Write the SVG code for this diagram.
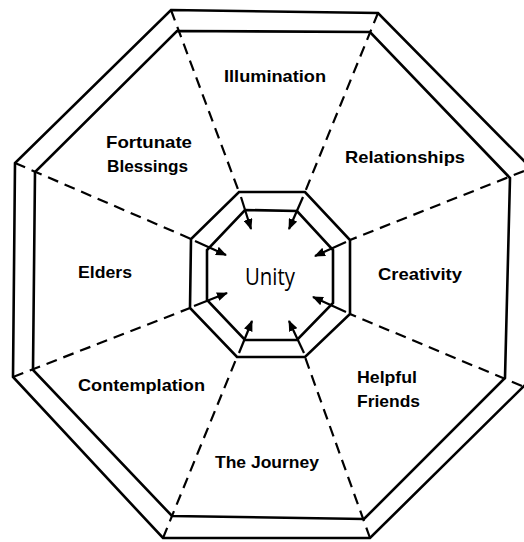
<svg xmlns="http://www.w3.org/2000/svg" width="524" height="542" viewBox="0 0 524 542">
<style>
.solid{fill:none;stroke:#000;stroke-width:2.6;stroke-linejoin:miter}
.dash{fill:none;stroke:#000;stroke-width:2.2;stroke-dasharray:11 7}
.arr{fill:none;stroke:#000;stroke-width:2.2}
.lbl{font-family:"Liberation Sans","DejaVu Sans",sans-serif;font-weight:bold;font-size:16.5px;fill:#000}
.center{font-family:"Open Sans","Liberation Sans",sans-serif;font-size:23px;fill:#000}
</style>
<defs>
<marker id="ah" viewBox="0 0 11 9" refX="10" refY="4.5" markerWidth="11" markerHeight="9" markerUnits="userSpaceOnUse" orient="auto">
<path d="M0,0 L11,4.5 L0,9 z" fill="#000"/>
</marker>
</defs>
<rect width="524" height="542" fill="#fff"/>
<g id="outer-octagon">
<polygon class="solid" points="171,10 378,13 526,163 526,384 370,538 163,538 13,377 15,163"/>
<polygon class="solid" points="177,31 370,32 510,178 505,378 364,519 172,516 33,370 35,172"/>
</g>
<g id="inner-octagon">
<polygon class="solid" points="239,192 305,192 350,240 350,314 305,357 237,357 190,308 191,239"/>
<polygon class="solid" points="245,210 297,211 333,250 333,303 297,340 245,340 207,300 207,250"/>
</g>
<g id="connectors">
<line class="dash" x1="171" y1="10" x2="239" y2="192"/>
<line class="dash" x1="378" y1="13" x2="305" y2="192"/>
<line class="dash" x1="524" y1="171" x2="350" y2="240"/>
<line class="dash" x1="522" y1="386" x2="350" y2="314"/>
<line class="dash" x1="370" y1="538" x2="305" y2="357"/>
<line class="dash" x1="163" y1="538" x2="237" y2="357"/>
<line class="dash" x1="13" y1="377" x2="190" y2="308"/>
<line class="dash" x1="15" y1="163" x2="191" y2="239"/>
<line class="arr" x1="241" y1="197" x2="251" y2="229" marker-end="url(#ah)"/>
<line class="arr" x1="303" y1="197" x2="289" y2="229" marker-end="url(#ah)"/>
<line class="arr" x1="346" y1="242" x2="315" y2="256" marker-end="url(#ah)"/>
<line class="arr" x1="346" y1="312" x2="313" y2="297" marker-end="url(#ah)"/>
<line class="arr" x1="304" y1="353" x2="289" y2="321" marker-end="url(#ah)"/>
<line class="arr" x1="239" y1="353" x2="252" y2="321" marker-end="url(#ah)"/>
<line class="arr" x1="194" y1="306" x2="227" y2="293" marker-end="url(#ah)"/>
<line class="arr" x1="195" y1="241" x2="226" y2="255" marker-end="url(#ah)"/>
</g>
<g id="unity"><text class="center" x="245" y="285" textLength="50" lengthAdjust="spacingAndGlyphs">Unity</text></g>
<g id="illumination"><text class="lbl" x="224" y="82" textLength="102" lengthAdjust="spacingAndGlyphs">Illumination</text></g>
<g id="fortunate-blessings">
<text class="lbl" x="106" y="148" textLength="86" lengthAdjust="spacingAndGlyphs">Fortunate</text>
<text class="lbl" x="107" y="172" textLength="81" lengthAdjust="spacingAndGlyphs">Blessings</text>
</g>
<g id="relationships"><text class="lbl" x="345" y="163" textLength="120" lengthAdjust="spacingAndGlyphs">Relationships</text></g>
<g id="elders"><text class="lbl" x="78" y="278" textLength="54" lengthAdjust="spacingAndGlyphs">Elders</text></g>
<g id="creativity"><text class="lbl" x="378" y="280" textLength="84" lengthAdjust="spacingAndGlyphs">Creativity</text></g>
<g id="contemplation"><text class="lbl" x="78" y="391" textLength="127" lengthAdjust="spacingAndGlyphs">Contemplation</text></g>
<g id="helpful-friends">
<text class="lbl" x="357" y="383" textLength="60" lengthAdjust="spacingAndGlyphs">Helpful</text>
<text class="lbl" x="357" y="407" textLength="63" lengthAdjust="spacingAndGlyphs">Friends</text>
</g>
<g id="the-journey"><text class="lbl" x="215" y="468" textLength="104" lengthAdjust="spacingAndGlyphs">The Journey</text></g>
</svg>
